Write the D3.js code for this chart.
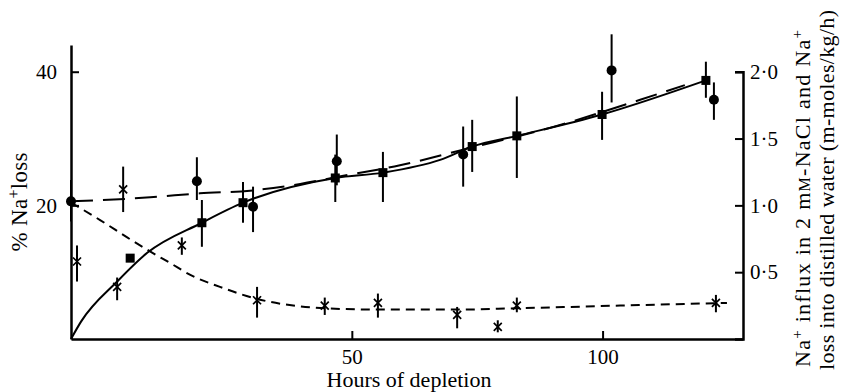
<!DOCTYPE html>
<html>
<head>
<meta charset="utf-8">
<script src="https://d3js.org/d3.v7.min.js"></script>
<style>
  body { margin: 0; background: #fff; }
  svg { font-family: "Liberation Serif", "Times New Roman", serif; }
</style>
</head>
<body>
<div id="chart"></div>
<script>
// % Na+ loss (squares, left axis)
var sqHours = [5.8, 20.1, 28.3, 46.7, 56.2, 74.0, 82.9, 99.9, 120.6];
var sqLoss  = [12.1, 17.4, 20.4, 24.1, 24.9, 28.8, 30.4, 33.6, 38.7];
var sqLo    = [null, 13.8, 17.4, 20.5, 20.5, 25.0, 24.1, 29.8, 36.1];
var sqHi    = [null, 20.8, 23.5, 27.6, 28.0, 32.8, 36.3, 37.0, 41.5];
// fitted solid curve for % loss
var lossCurveHours = [-6, -4, 3.2, 9.2, 20.1, 28.3, 46.7, 56.2, 67.6, 74.0, 82.9, 99.9, 120.6];
var lossCurveVals  = [0, 2.6, 8.6, 12.9, 17.4, 20.4, 24.1, 24.9, 26.8, 28.8, 30.4, 33.6, 38.7];

// Na+ influx in 2 mM-NaCl (circles, right axis)
var ciHours = [-6, 19.1, 30.3, 47.0, 72.2, 101.8, 122.2];
var ciFlux  = [1.03, 1.18, 0.99, 1.33, 1.38, 2.01, 1.79];
var ciLo    = [0.88, 1.04, 0.80, 1.15, 1.14, 1.77, 1.64];
var ciHi    = [1.19, 1.36, 1.14, 1.53, 1.59, 2.28, 1.92];
var fluxCurveHours = [-6, 9.8, 19.7, 29.7, 39.7, 46.7, 59.6, 73.6, 89.5, 107.5, 116.4];
var fluxCurveVals  = [1.03, 1.06, 1.09, 1.11, 1.16, 1.21, 1.30, 1.43, 1.58, 1.79, 1.90];

// Na+ loss into distilled water (crosses, right axis)
var xHours = [-4.8, 3.2, 4.4, 16.1, 31.1, 44.6, 55.2, 71.0, 79.1, 82.9, 122.6];
var xLoss  = [0.58, 0.39, 1.12, 0.70, 0.29, 0.25, 0.27, 0.18, 0.09, 0.25, 0.27];
var xLo    = [0.43, 0.29, 0.95, 0.63, 0.16, 0.18, 0.16, 0.08, 0.05, 0.20, 0.20];
var xHi    = [0.70, 0.46, 1.29, 0.76, 0.39, 0.31, 0.34, 0.24, 0.14, 0.31, 0.33];
var waterCurveHours = [-6, -0.2, 5.2, 9.1, 13.7, 18.3, 23.7, 31.1, 38.3, 44.6, 55.2, 71.0, 82.9, 103.5, 124.8];
var waterCurveVals  = [1.02, 0.89, 0.76, 0.67, 0.57, 0.47, 0.39, 0.30, 0.25, 0.23, 0.22, 0.22, 0.23, 0.25, 0.27];

var xTicks = [50, 100];
var leftTicks = [20, 40];
var rightTicks = [0.5, 1.0, 1.5, 2.0];

function zip(a, b) {
  var arr = [];
  for (var i = 0; i < a.length; i++) arr.push([a[i], b[i]]);
  return arr;
}

var W = 844, H = 392;
var padL = 71, padR = 743, padB = 339, padT = 45;

var svg = d3.select("#chart").append("svg")
    .attr("width", W)
    .attr("height", H);

var x = d3.scaleLinear().domain([-6, 128]).range([padL, padR]);
var yL = d3.scaleLinear().domain([0, 44]).range([padB, padT]);
var yR = d3.scaleLinear().domain([0, 2.2]).range([padB, padT]);

// axes
var fmtR = function(d) { return d3.format(".1f")(d).replace(".", "\u00b7"); };

var gx = svg.append("g")
    .attr("transform", "translate(0," + padB + ")")
    .call(d3.axisBottom(x).tickValues(xTicks).tickSize(-8).tickSizeOuter(0).tickPadding(10));

var gl = svg.append("g")
    .attr("transform", "translate(" + padL + ",0)")
    .call(d3.axisLeft(yL).tickValues(leftTicks).tickSize(-8).tickSizeOuter(0).tickPadding(14));

var yRaxis = yR.copy().domain([0, 2]).range([padB, yR(2)]);
var gr = svg.append("g")
    .attr("transform", "translate(" + padR + ",0)")
    .call(d3.axisRight(yRaxis).tickValues(rightTicks).tickFormat(fmtR).tickSize(-8).tickSizeOuter(-8).tickPadding(7));

[gx, gl, gr].forEach(function(g) {
  g.select(".domain").attr("stroke", "#000").attr("stroke-width", 2.5);
  g.selectAll(".tick line").attr("stroke", "#000").attr("stroke-width", 2);
  g.selectAll(".tick text").attr("fill", "#000").style("font-size", "21px")
    .style("font-family", "'Liberation Serif', serif");
});

// curves
var lineL = d3.line().x(function(d) { return x(d[0]); }).y(function(d) { return yL(d[1]); })
    .curve(d3.curveMonotoneX);
var lineR = d3.line().x(function(d) { return x(d[0]); }).y(function(d) { return yR(d[1]); })
    .curve(d3.curveMonotoneX);

svg.append("path")
    .datum(zip(lossCurveHours, lossCurveVals))
    .attr("d", lineL)
    .attr("fill", "none").attr("stroke", "#000").attr("stroke-width", 2);

svg.append("path")
    .datum(zip(fluxCurveHours, fluxCurveVals))
    .attr("d", lineR)
    .attr("fill", "none").attr("stroke", "#000").attr("stroke-width", 2)
    .attr("stroke-dasharray", "22,10");

svg.append("path")
    .datum(zip(waterCurveHours, waterCurveVals))
    .attr("d", lineR)
    .attr("fill", "none").attr("stroke", "#000").attr("stroke-width", 2)
    .attr("stroke-dasharray", "9,6");

// error bars
function errBars(hours, lo, hi, yScale) {
  var d = [];
  for (var i = 0; i < hours.length; i++) {
    if (lo[i] != null) d.push([hours[i], lo[i], hi[i]]);
  }
  svg.append("g").selectAll("line")
    .data(d)
    .enter().append("line")
      .attr("x1", function(d) { return x(d[0]); })
      .attr("x2", function(d) { return x(d[0]); })
      .attr("y1", function(d) { return yScale(d[1]); })
      .attr("y2", function(d) { return yScale(d[2]); })
      .attr("stroke", "#000")
      .attr("stroke-width", 2);
}
errBars(sqHours, sqLo, sqHi, yL);
errBars(ciHours, ciLo, ciHi, yR);
errBars(xHours, xLo, xHi, yR);

// markers
svg.append("g").selectAll("rect")
  .data(zip(sqHours, sqLoss))
  .enter().append("rect")
    .attr("x", function(d) { return x(d[0]) - 4.5; })
    .attr("y", function(d) { return yL(d[1]) - 4.5; })
    .attr("width", 9).attr("height", 9)
    .attr("fill", "#000");

svg.append("g").selectAll("circle")
  .data(zip(ciHours, ciFlux))
  .enter().append("circle")
    .attr("cx", function(d) { return x(d[0]); })
    .attr("cy", function(d) { return yR(d[1]); })
    .attr("r", 5)
    .attr("fill", "#000");

svg.append("g").selectAll("path")
  .data(zip(xHours, xLoss))
  .enter().append("path")
    .attr("d", function(d) {
      var cx = x(d[0]), cy = yR(d[1]), s = 4;
      return "M" + (cx - s) + "," + (cy - s) + "L" + (cx + s) + "," + (cy + s) +
             "M" + (cx - s) + "," + (cy + s) + "L" + (cx + s) + "," + (cy - s);
    })
    .attr("stroke", "#000").attr("stroke-width", 1.7).attr("fill", "none");

// axis labels
svg.append("text")
    .attr("text-anchor", "middle")
    .attr("x", 409).attr("y", 387)
    .style("font-size", "22px")
    .text("Hours of depletion");

var ll = svg.append("text")
    .attr("text-anchor", "middle")
    .attr("transform", "translate(27,202)rotate(-90)")
    .attr("textLength", 99).attr("lengthAdjust", "spacing")
    .style("font-size", "23px");
ll.append("tspan").text("% Na");
ll.append("tspan").attr("dy", -8).style("font-size", "16px").text("+");
ll.append("tspan").attr("dy", 8).text("loss");

var r1 = svg.append("text")
    .attr("transform", "translate(810,367)rotate(-90)")
    .attr("textLength", 337).attr("lengthAdjust", "spacing")
    .style("font-size", "22px");
r1.append("tspan").text("Na");
r1.append("tspan").attr("dy", -8).style("font-size", "15px").text("+");
r1.append("tspan").attr("dy", 8).text(" influx in 2 m");
r1.append("tspan").style("font-size", "16px").text("M");
r1.append("tspan").text("-NaCl and Na");
r1.append("tspan").attr("dy", -8).style("font-size", "15px").text("+");

svg.append("text")
    .attr("transform", "translate(834,370)rotate(-90)")
    .attr("textLength", 360).attr("lengthAdjust", "spacing")
    .style("font-size", "22px")
    .text("loss into distilled water (m-moles/kg/h)");
</script>
</body>
</html>
